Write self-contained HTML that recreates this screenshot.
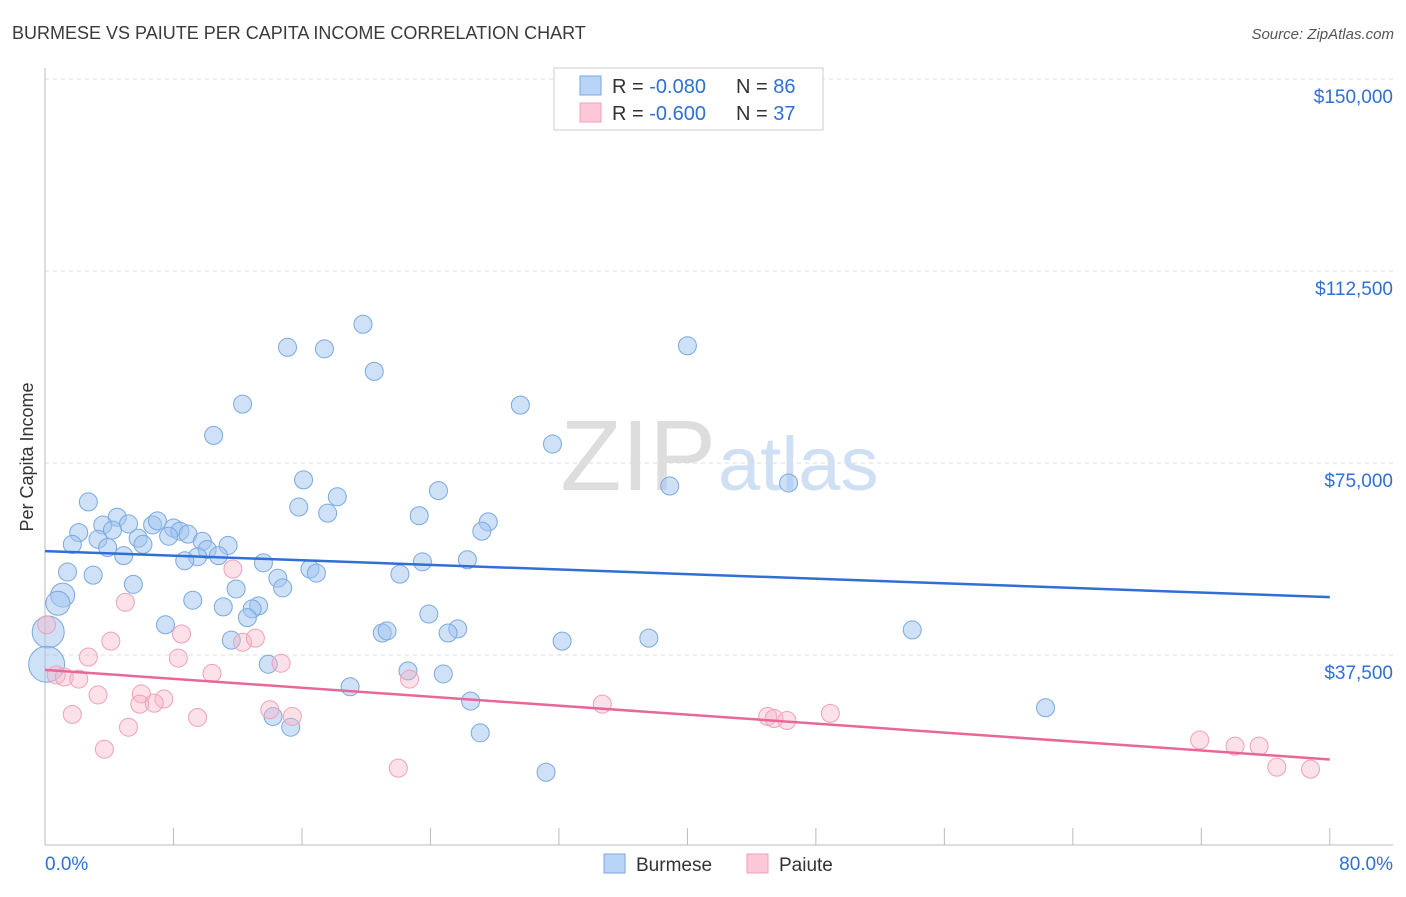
<!DOCTYPE html>
<html><head><meta charset="utf-8"><style>
body{margin:0;background:#fff;font-family:"Liberation Sans",sans-serif}
svg text{font-family:"Liberation Sans",sans-serif}
</style></head><body>
<svg id="chart" width="1406" height="892">
<text x="12" y="39" font-size="18" fill="#3a3a3a">BURMESE VS PAIUTE PER CAPITA INCOME CORRELATION CHART</text>
<text x="1394" y="39" font-size="15" fill="#555" font-style="italic" text-anchor="end">Source: ZipAtlas.com</text>
<text x="33" y="457" font-size="18" fill="#333" transform="rotate(-90 33 457)" text-anchor="middle">Per Capita Income</text>
<text x="716" y="490" font-size="100" fill="#ddd" text-anchor="end" font-family="Liberation Serif">ZIP</text>
<text x="718" y="490" font-size="76" fill="#cfe0f4">atlas</text>
<g id="grid"></g><g id="axes"></g><g id="pts"></g>
<g>
<rect x="554" y="68" width="269" height="62" fill="#fff" stroke="#ccc"/>
<rect x="580" y="76" width="21" height="19" fill="#b8d4f6" stroke="#7aa8e0"/>
<rect x="580" y="103" width="21" height="19" fill="#fcc8d8" stroke="#f0a0b8"/>
<text x="612" y="93" font-size="20" fill="#333">R = <tspan fill="#2f6fd6">-0.080</tspan></text>
<text x="736" y="93" font-size="20" fill="#333">N = <tspan fill="#2f6fd6">86</tspan></text>
<text x="612" y="120" font-size="20" fill="#333">R = <tspan fill="#2f6fd6">-0.600</tspan></text>
<text x="736" y="120" font-size="20" fill="#333">N = <tspan fill="#2f6fd6">37</tspan></text>
</g>
<g>
<rect x="604" y="854" width="21" height="19" fill="#b8d4f6" stroke="#7aa8e0"/>
<text x="636" y="871" font-size="19" fill="#333">Burmese</text>
<rect x="747" y="854" width="21" height="19" fill="#fcc8d8" stroke="#f0a0b8"/>
<text x="779" y="871" font-size="19" fill="#333">Paiute</text>
</g>
</svg>
<script>
const yTicks=[37500,75000,112500,150000];
const yTickLabels=["$37,500","$75,000","$112,500","$150,000"];
const xTicks=[0,8,16,24,32,40,48,56,64,72,80];
const blueX=[19.8,15.1,17.4,40,20.5,12.3,29.6,10.5,31.6,38.9,46.3,16.1,24.5,2.7,18.2,15.8,17.6,23.3,4.5,2.1,3.6,5.2,6.7,7,8,8.4,27.6,27.2,4.2,3.3,5.8,7.7,8.9,1.7,3.9,6.1,9.8,11.4,10.1,4.9,9.5,10.8,8.7,13.6,23.5,26.3,16.5,16.9,22.1,1.4,3,14.5,5.5,14.8,11.9,1.1,0.8,9.2,13.3,12.9,11.1,23.9,12.6,7.5,54,25.7,11.6,25.1,21,21.3,32.2,37.6,0.2,0.1,13.9,22.6,24.8,19,26.5,62.3,14.2,15.3,27.1,31.2];
const blueY=[102.1,97.6,97.3,97.9,92.9,86.5,86.3,80.4,78.7,70.5,71.1,71.7,69.6,67.4,68.4,66.4,65.2,64.7,64.4,61.4,62.9,63.1,62.9,63.7,62.3,61.7,63.5,61.7,61.9,60.1,60.3,60.7,61.1,59.1,58.5,59.1,59.7,58.9,58.1,56.9,56.7,56.9,55.9,55.5,55.7,56.1,54.3,53.5,53.3,53.7,53.1,52.5,51.3,50.6,50.4,49.2,47.6,48.2,47.1,46.5,46.9,45.5,44.8,43.4,42.4,42.6,40.4,41.8,41.8,42.2,40.2,40.8,42,35.7,35.7,34.4,33.8,31.3,28.5,27.2,25.5,23.4,22.3,14.6];
const pinkX=[0.1,11.7,5,8.5,4.1,12.3,13.1,2.7,8.3,14.7,10.4,0.7,1.2,2.1,22.7,3.3,6,7.4,5.9,6.8,34.7,1.7,9.5,14,15.4,48.9,45,45.4,46.2,5.2,3.7,22,71.9,74.1,75.6,76.7,78.8];
const pinkY=[43.4,54.3,47.8,41.6,40.2,40,40.8,37.1,36.9,35.9,33.9,33.6,33.2,32.8,32.8,29.7,29.9,28.9,27.9,28.1,27.9,25.9,25.3,26.8,25.5,26.1,25.5,25.1,24.7,23.4,19.1,15.4,20.9,19.7,19.7,15.6,15.2];
const blueTrend=[57.8,48.8], pinkTrend=[34.6,17.1];
const X=p=>45+p*16.06, Y=v=>847-v*192/37.5;
const NS='http://www.w3.org/2000/svg';
function mk(t,a,parent){const e=document.createElementNS(NS,t);for(const k in a)e.setAttribute(k,a[k]);document.getElementById(parent).appendChild(e);return e;}
yTicks.forEach((v,i)=>{const y=Y(v/1000);
 const l=mk('line',{x1:45,x2:1393,y1:y,y2:y,stroke:'#ddd','stroke-dasharray':'4,4'},'grid');
 
 
 const t=mk('text',{x:1393,y:y+24,'font-size':19,fill:'#2f6fd6','text-anchor':'end'},'grid');t.textContent=yTickLabels[i];
 
 });
const ax=mk('line',{x1:45,x2:45,y1:68,y2:845,stroke:'#bbb'},'axes');


const bx=mk('line',{x1:45,x2:1393,y1:845,y2:845,stroke:'#bbb'},'axes');


xTicks.forEach(p=>{const t=mk('line',{x1:X(p),x2:X(p),y1:828,y2:845,stroke:'#bbb'},'axes');
 
 });
const xl=mk('text',{x:45,y:870,'font-size':19,fill:'#2f6fd6'},'axes');xl.textContent='0.0%';


const xr=mk('text',{x:1393,y:870,'font-size':19,fill:'#2f6fd6','text-anchor':'end'},'axes');xr.textContent='80.0%';


blueX.forEach((p,i)=>{const r=i>=blueX.length-12&&p<1?(blueY[i]>40?16:18):(p<1.2&&blueY[i]>47?12:9);
 const c=mk('circle',{cx:X(p),cy:Y(blueY[i]),r:r,fill:'rgba(160,196,240,0.5)',stroke:'#7aa8e0','stroke-width':1},'pts');
 
 });
pinkX.forEach((p,i)=>{const c=mk('circle',{cx:X(p),cy:Y(pinkY[i]),r:9,fill:'rgba(248,180,200,0.4)',stroke:'#f0a0b8','stroke-width':1},'pts');
 
 });
const bl=mk('line',{x1:X(0),x2:X(80),y1:Y(blueTrend[0]),y2:Y(blueTrend[1]),stroke:'#2f6fd6','stroke-width':2.5},'pts');


const pl=mk('line',{x1:X(0),x2:X(80),y1:Y(pinkTrend[0]),y2:Y(pinkTrend[1]),stroke:'#e8679a','stroke-width':2.5},'pts');


</script>
</body></html>
